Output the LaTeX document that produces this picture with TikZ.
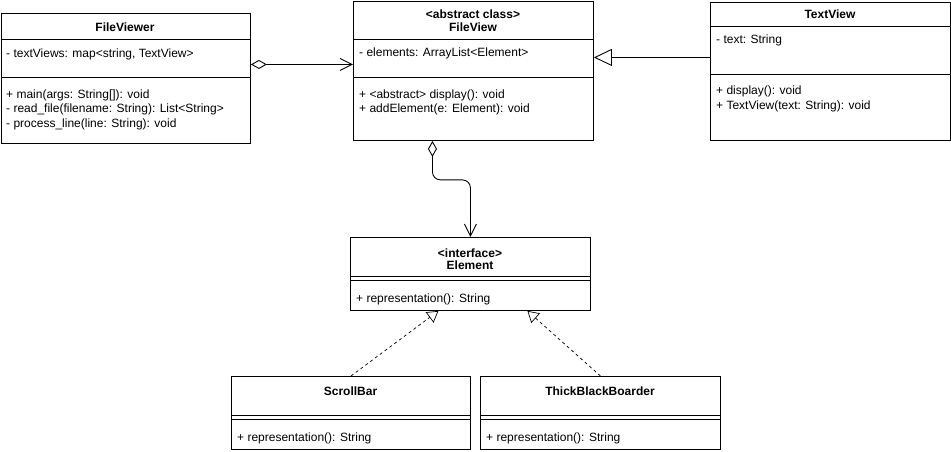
\documentclass[tikz,border=0pt]{standalone}
\usepackage{fontspec}
\setmainfont{Liberation Sans}
\usetikzlibrary{arrows.meta}
\tikzset{
  cls/.style={draw, line width=0.9pt, anchor=north west, inner sep=0pt, minimum width=#1},
  dv/.style={line width=0.9pt},
  txt/.style={anchor=base west, inner sep=0pt, font=\fontsize{12}{14}\selectfont},
  ttl/.style={anchor=base, inner sep=0pt, font=\fontsize{12}{14}\selectfont\bfseries},
  agg/.style={line width=0.9pt, {Diamond[open,length=16pt,width=9pt]}-{Straight Barb[length=12pt,width=12pt]}},
  gen/.style={line width=0.9pt, -{Triangle[open,length=18pt,width=17pt]}},
  real/.style={line width=0.7pt, dash pattern=on 3pt off 3pt, -{Triangle[open,length=11pt,width=13pt]}},
}
\begin{document}
\begin{tikzpicture}[x=1pt,y=-1pt]
\useasboundingbox (0,0) rectangle (951,452);
% FileViewer
\node[cls=249.5pt, minimum height=130pt] (fv) at (0.5,13) {};
\draw[dv] (0.5,39) -- (250,39);
\draw[dv] (0.5,77) -- (250,77);
\node[ttl] (fvt) at (125,32) {FileViewer};
\node[txt] (fva) at (6,58) {- textViews: map<string, TextView>};
\node[txt] (fvm1) at (6,99) {+ main(args: String[]): void};
\node[txt] (fvm2) at (6,113) {- read\_file(filename: String): List<String>};
\node[txt] (fvm3) at (6,127) {- process\_line(line: String): void};
% FileView
\node[cls=240pt, minimum height=139pt] (fvw) at (353,1) {};
\draw[dv] (353,39) -- (593,39);
\draw[dv] (353,77) -- (593,77);
\node[ttl] (fwt1) at (473,19) {<abstract class>};
\node[ttl] (fwt2) at (473,32) {FileView};
\node[txt] (fwa) at (359,57) {- elements: ArrayList<Element>};
\node[txt] (fwm1) at (359,99) {+ <abstract> display(): void};
\node[txt] (fwm2) at (359,113) {+ addElement(e: Element): void};
% TextView
\node[cls=240pt, minimum height=138pt] (tv) at (710,2) {};
\draw[dv] (710,26) -- (950,26);
\draw[dv] (710,74) -- (950,74);
\node[ttl] (tvt) at (830,19) {TextView};
\node[txt] (tva) at (716,44) {- text: String};
\node[txt] (tvm1) at (716,95) {+ display(): void};
\node[txt] (tvm2) at (716,110) {+ TextView(text: String): void};
% Element
\node[cls=240pt, minimum height=73pt] (el) at (350,237) {};
\draw[dv] (350,276) -- (590,276);
\draw[dv] (350,280) -- (590,280);
\node[ttl] (elt1) at (470,257) {<interface>};
\node[ttl] (elt2) at (470,269) {Element};
\node[txt] (elm) at (356,302) {+ representation(): String};
% ScrollBar
\node[cls=239pt, minimum height=73pt] (sb) at (231,376) {};
\draw[dv] (231,415) -- (470,415);
\draw[dv] (231,419) -- (470,419);
\node[ttl] (sbt) at (350.5,395) {ScrollBar};
\node[txt] (sbm) at (237,441) {+ representation(): String};
% ThickBlackBoarder
\node[cls=240pt, minimum height=73pt] (tb) at (480,376) {};
\draw[dv] (480,415) -- (720,415);
\draw[dv] (480,419) -- (720,419);
\node[ttl] (tbt) at (600,395) {ThickBlackBoarder};
\node[txt] (tbm) at (486,441) {+ representation(): String};
% connectors
\draw[agg] ([yshift=14pt]fv.east) -- ([yshift=14pt]fv.east -| fvw.west);
\draw[gen] ([yshift=14pt]tv.west) -- ([yshift=14pt]tv.west -| fvw.east);
\draw[agg, rounded corners=8pt] ([xshift=-41pt]fvw.south) -- ++(0,39) -| (el.north);
\draw[real] (sb.north) -- ([xshift=-32pt]el.south);
\draw[real] (tb.north) -- ([xshift=57pt]el.south);
\end{tikzpicture}
\end{document}
